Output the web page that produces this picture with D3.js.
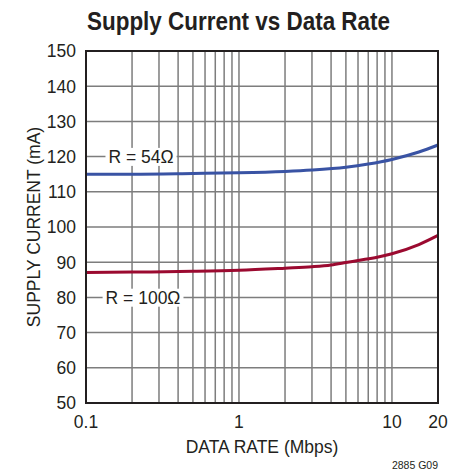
<!DOCTYPE html>
<html>
<head>
<meta charset="utf-8">
<script src="https://cdn.jsdelivr.net/npm/d3@7"></script>
<style>
  html, body { margin: 0; padding: 0; background: #fff; }
  svg { display: block; }
  text { font-family: "Liberation Sans", Arial, Helvetica, sans-serif; fill: #231f20; }
</style>
</head>
<body>
<svg id="chart" width="469" height="472"></svg>
<script>
// ---- data ----
const rates54  = [0.1, 0.2, 0.5, 1, 2, 3, 5, 7, 10, 15, 20];
const current54 = [115.0, 115.0, 115.2, 115.4, 115.8, 116.2, 117.0, 117.9, 119.2, 121.3, 123.3];
const rates100 = [0.1, 0.2, 0.5, 1, 2, 3, 4, 5, 6, 8, 10, 15, 20];
const current100 = [87.1, 87.2, 87.4, 87.7, 88.3, 88.7, 89.2, 89.9, 90.5, 91.4, 92.4, 95.0, 97.6];
const xGridValues = [0.2,0.3,0.4,0.5,0.6,0.7,0.8,0.9,1,2,3,4,5,6,7,8,9,10];
const xTickLabels = [0.1, 1, 10, 20];
const yTickValues = [50,60,70,80,90,100,110,120,130,140,150];
const seriesLabels = ["R = 54\u03A9", "R = 100\u03A9"];
const labelAnchors = [{x: 0.229, y: 120}, {x: 0.236, y: 80}];
const titleText = "Supply Current vs Data Rate";
const xTitle = "DATA RATE (Mbps)";
const yTitle = "SUPPLY CURRENT (mA)";
const noteText = "2885 G09";

// ---- layout ----
const svg = d3.select("#chart");
const L = 86, R = 438, T = 51, B = 403;

const x = d3.scaleLog().domain([0.1, 20]).range([L, R]);
const y = d3.scaleLinear().domain([50, 150]).range([B, T]);

// grid
const grid = svg.append("g");
grid.selectAll("line.v").data(xGridValues).enter().append("line")
  .attr("x1", d => x(d)).attr("x2", d => x(d))
  .attr("y1", T).attr("y2", B)
  .attr("stroke", "#7d7d7d").attr("stroke-width", 1.5);
grid.selectAll("line.h").data(yTickValues.slice(1, -1)).enter().append("line")
  .attr("x1", L).attr("x2", R)
  .attr("y1", d => y(d)).attr("y2", d => y(d))
  .attr("stroke", "#7d7d7d").attr("stroke-width", 1.5);

// labels with white backgrounds
const labelG = svg.append("g");
seriesLabels.forEach((s, i) => {
  const t = labelG.append("text")
    .attr("x", x(labelAnchors[i].x)).attr("y", y(labelAnchors[i].y))
    .attr("dy", "0.36em")
    .attr("text-anchor", "middle")
    .attr("font-size", 17.5)
    .text(s);
  const bb = t.node().getBBox();
  labelG.insert("rect", "text")
    .attr("x", bb.x - 3).attr("y", bb.y + 1)
    .attr("width", bb.width + 6).attr("height", bb.height - 2)
    .attr("fill", "#fff");
});

// curves
const line = d3.line().x(d => x(d[0])).y(d => y(d[1])).curve(d3.curveMonotoneX);
svg.append("path")
  .datum(rates54.map((r, i) => [r, current54[i]]))
  .attr("d", line).attr("fill", "none")
  .attr("stroke", "#3953a4").attr("stroke-width", 3);
svg.append("path")
  .datum(rates100.map((r, i) => [r, current100[i]]))
  .attr("d", line).attr("fill", "none")
  .attr("stroke", "#9b0a30").attr("stroke-width", 3);

// frame
svg.append("rect")
  .attr("x", L).attr("y", T).attr("width", R - L).attr("height", B - T)
  .attr("fill", "none").attr("stroke", "#231f20").attr("stroke-width", 2);

// y tick labels
svg.append("g").selectAll("text").data(yTickValues).enter().append("text")
  .attr("x", 76).attr("y", d => y(d)).attr("dy", "0.36em")
  .attr("text-anchor", "end").attr("font-size", 17.5)
  .text(d => d);

// x tick labels
svg.append("g").selectAll("text").data(xTickLabels).enter().append("text")
  .attr("x", d => x(d)).attr("y", 428)
  .attr("text-anchor", "middle").attr("font-size", 17.5)
  .text(d => d);

// axis titles
svg.append("text").attr("x", 262).attr("y", 453)
  .attr("text-anchor", "middle").attr("font-size", 17.5).text(xTitle);
svg.append("text")
  .attr("transform", `translate(40,${(T + B) / 2}) rotate(-90)`)
  .attr("text-anchor", "middle").attr("font-size", 17.5).text(yTitle);

// title
svg.append("text").attr("x", 238.5).attr("y", 30)
  .attr("text-anchor", "middle").attr("font-size", 26).attr("font-weight", "bold")
  .attr("textLength", 303).attr("lengthAdjust", "spacingAndGlyphs")
  .text(titleText);

// note
svg.append("text").attr("x", 438).attr("y", 469)
  .attr("text-anchor", "end").attr("font-size", 10.5).text(noteText);
</script>
</body>
</html>
